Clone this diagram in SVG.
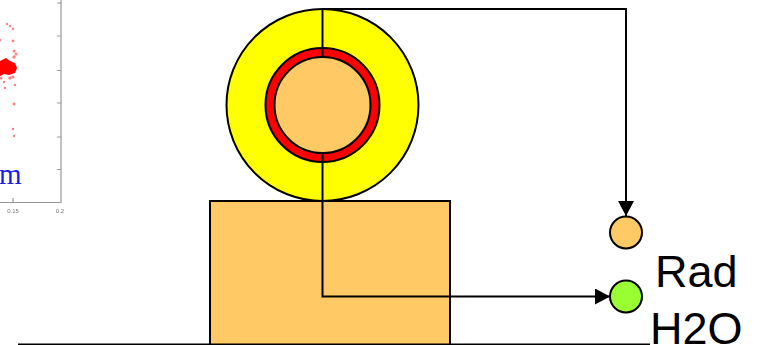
<svg xmlns="http://www.w3.org/2000/svg" width="760" height="345" viewBox="0 0 760 345">
  <defs>
    <style>
      .ln{fill:none;stroke:#000;stroke-width:2}
      .nd{stroke:#000;stroke-width:2}
      .lab{font-family:"Liberation Sans",Arial,sans-serif;font-size:45px;fill:#000}
      .tk{font-family:"Liberation Sans",Arial,sans-serif;font-size:6px;fill:#777}
      .ax{fill:none;stroke:#999;stroke-width:1.200}
      .dot{fill:#f00;opacity:.5}
    </style>
    <marker id="arr" markerUnits="userSpaceOnUse" markerWidth="16" markerHeight="16" refX="15" refY="8" orient="auto">
      <path d="M0 0L15 8L0 16Z" fill="#000"/>
    </marker>
    <filter id="soft" x="-5%" y="-5%" width="110%" height="110%"><feGaussianBlur stdDeviation="0.6"/></filter>
  </defs>
  <rect width="760" height="345" fill="#fff"/>
  <g id="chart" filter="url(#soft)">
    <path class="ax" d="M61 0V202.500H0"/>
    <path class="ax" d="M57 3H61M57 36H61M57 70.500H61M57 103H61M57 137H61M57 169.500H61M13 202V198"/>
    <path d="M0 61L6 58L10 61L15 63L17 68L15 73L9 75L4 74L0 76Z" fill="#f00"/>
    <g>
      <circle class="dot" cx="7" cy="24" r="1.200"/><circle class="dot" cx="10" cy="26" r="1.200"/><circle class="dot" cx="13" cy="29" r="1.200"/>
      <circle class="dot" cx="13" cy="41" r="1.400"/><circle class="dot" cx="0" cy="40" r="1.200"/><circle class="dot" cx="14" cy="51" r="1.500"/>
      <circle class="dot" cx="16" cy="54" r="1.500"/><circle class="dot" cx="14" cy="57" r="1.700"/><circle class="dot" cx="4" cy="82" r="1.200"/>
      <circle class="dot" cx="5" cy="88" r="1.200"/><circle class="dot" cx="15" cy="85" r="1.200"/><circle class="dot" cx="14" cy="104" r="1.400"/>
      <circle class="dot" cx="13" cy="129" r="1.200"/><circle class="dot" cx="14" cy="136" r="1.200"/><circle class="dot" cx="10" cy="78" r="1.700"/>
      <circle class="dot" cx="13" cy="77" r="1.500"/><circle class="dot" cx="1" cy="78" r="1.500"/>
    </g>
    <text class="tk" x="13" y="213" text-anchor="middle">0.15</text>
    <text class="tk" x="60" y="213" text-anchor="middle">0.2</text>
  </g>
  <text x="-1" y="184" font-family="'Liberation Serif','Times New Roman',serif" font-size="29" fill="#1c1ce0">m</text>
  <g id="block"><rect class="nd" x="210" y="201" width="240" height="150" fill="#ffc966"/></g>
  <g id="tube">
    <circle class="nd" cx="322.500" cy="105" r="96" fill="#ff0"/>
    <circle class="nd" cx="322.500" cy="105" r="57" fill="#f00"/>
    <circle class="nd" cx="322.500" cy="105" r="48" fill="#ffc966"/>
  </g>
  <g id="node-orange"><circle class="nd" cx="626" cy="232.500" r="16" fill="#ffc966"/></g>
  <g id="node-green"><circle class="nd" cx="626" cy="296.500" r="16" fill="#9f3"/></g>
  <g id="connectors">
    <path class="ln" d="M322.500 57V9H626V216" marker-end="url(#arr)"/>
    <path class="ln" d="M322.500 153V296.500H610" marker-end="url(#arr)"/>
    <path class="ln" d="M18 344.500H650"/>
  </g>
  <g id="labels">
    <text class="lab" x="655" y="287">Rad</text>
    <text class="lab" x="650" y="344">H2O</text>
  </g>
</svg>
